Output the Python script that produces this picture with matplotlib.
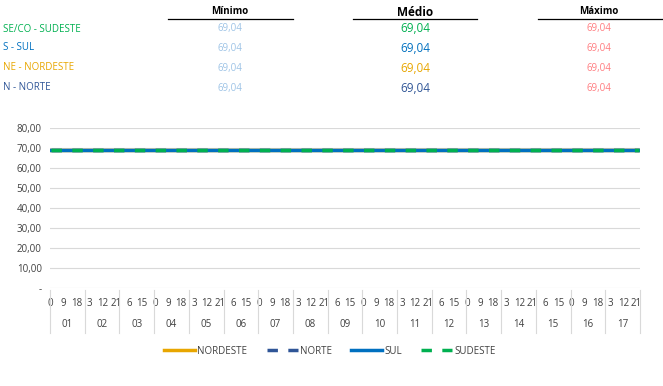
import matplotlib.pyplot as plt
import matplotlib.transforms as mtransforms

plt.rcParams['font.family'] = ['Open Sans', 'DejaVu Sans']

# data
days = ['01', '02', '03', '04', '05', '06', '07', '08', '09',
        '10', '11', '12', '13', '14', '15', '16', '17']
hours = list(range(24))
n = len(days) * len(hours)

nordeste = [69.04] * n
norte = [69.04] * n
sul = [69.04] * n
sudeste = [69.04] * n

regions = ['SE/CO - SUDESTE', 'S - SUL', 'NE - NORDESTE', 'N - NORTE']
region_colors = ['#00B050', '#0070C0', '#E8A600', '#2F5597']
minimo = [69.04, 69.04, 69.04, 69.04]
medio = [69.04, 69.04, 69.04, 69.04]
maximo = [69.04, 69.04, 69.04, 69.04]

yticks = [0, 10, 20, 30, 40, 50, 60, 70, 80]


def br(v):
    return f'{v:.2f}'.replace('.', ',')


fig = plt.figure(figsize=(6.63, 3.86), dpi=100)

# header table
fig.text(230 / 663, 1 - 11 / 386, 'Mínimo', ha='center', va='center', fontsize=7, fontweight='bold')
fig.text(415 / 663, 1 - 13 / 386, 'Médio', ha='center', va='center', fontsize=8.5, fontweight='bold')
fig.text(599 / 663, 1 - 11 / 386, 'Máximo', ha='center', va='center', fontsize=7, fontweight='bold')
for a, b in [(168, 293), (353, 477), (538, 663)]:
    fig.add_artist(plt.Line2D([a / 663, b / 663], [1 - 19 / 386, 1 - 19 / 386], color='black', lw=0.9))

row_y = [29, 48, 68, 88]
for i, r in enumerate(regions):
    y = 1 - row_y[i] / 386
    fig.text(3 / 663, y, r, ha='left', va='center', fontsize=7, color=region_colors[i])
    fig.text(230 / 663, y, br(minimo[i]), ha='center', va='center', fontsize=7, color='#9DC3E6')
    fig.text(415 / 663, y, br(medio[i]), ha='center', va='center', fontsize=8.5, color=region_colors[i])
    fig.text(599 / 663, y, br(maximo[i]), ha='center', va='center', fontsize=7, color='#FF7C80')

# chart
ax = fig.add_axes([50 / 663, 1 - 288 / 386, 590 / 663, 160 / 386])
x = list(range(n))
ax.plot(x, nordeste, color='#E8A600', lw=2.5, label='NORDESTE')
ax.plot(x, norte, color='#2F5597', lw=2.5, ls=(0, (3, 3)), label='NORTE')
ax.plot(x, sul, color='#0070C0', lw=2.5, label='SUL')
ax.plot(x, sudeste, color='#00B050', lw=2.5, ls=(0, (3, 3)), label='SUDESTE')

ax.set_xlim(-0.5, n - 0.5)
ax.set_ylim(0, 80)
ax.set_yticks(yticks)
ax.set_yticklabels(['-'] + [br(v) for v in yticks[1:]], fontsize=7, color='#404040')
ax.grid(axis='y', color='#D9D9D9', lw=0.8)
ax.set_axisbelow(True)
for s in ax.spines.values():
    s.set_visible(False)
ax.tick_params(axis='y', length=0, pad=6)

xt = list(range(0, n, 9))
ax.set_xticks(xt)
ax.set_xticklabels([str(hours[i % 24]) for i in xt], fontsize=7, color='#404040')
ax.tick_params(axis='x', length=0, pad=7)

trans = mtransforms.blended_transform_factory(ax.transData, ax.transAxes)
for d in range(len(days) + 1):
    xb = d * 24 - 0.5
    ax.plot([xb, xb], [-0.01, -0.28], color='#D9D9D9', lw=0.8, transform=trans, clip_on=False)
for d, lab in enumerate(days):
    ax.text(d * 24 + 11.5, -0.23, lab, transform=trans, ha='center', va='center',
            fontsize=7, color='#404040')

leg = fig.legend(loc='center', bbox_to_anchor=(330 / 663, 1 - 351 / 386), ncol=4,
                 frameon=False, fontsize=7, handlelength=3.2, columnspacing=2.0,
                 handletextpad=0.2)
for t in leg.get_texts():
    t.set_color('#404040')

fig.savefig('out.png', dpi=100)
